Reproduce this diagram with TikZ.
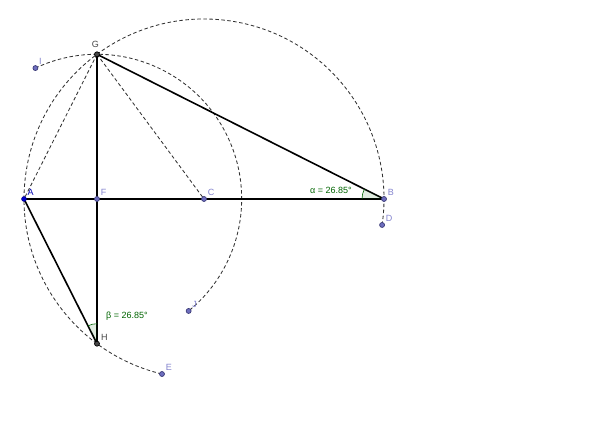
\documentclass[tikz,border=0pt]{standalone}
\usepackage{fontspec}
\setmainfont{Liberation Sans}
\usetikzlibrary{calc}
\definecolor{ptfill}{RGB}{110,110,190}
\definecolor{ptline}{RGB}{60,60,120}
\definecolor{lblblue}{RGB}{130,130,205}
\definecolor{anggreen}{RGB}{0,100,0}
\definecolor{depgray}{RGB}{70,70,70}
\tikzset{
  freept/.style={circle,draw=ptline,fill=ptfill,inner sep=0pt,minimum size=5pt,line width=0.7pt},
  deppt/.style={circle,draw=black,fill=depgray,inner sep=0pt,minimum size=5pt,line width=0.7pt},
  lbl/.style={text=lblblue,font=\fontsize{9}{10}\selectfont,inner sep=1pt},
  constr/.style={dash pattern=on 3.5pt off 2.5pt,line width=0.85pt,black!80},
  seg/.style={line width=1.6pt,black},
  angsector/.style={fill=anggreen,fill opacity=0.12,draw=none},
  angarc/.style={draw=anggreen,line width=0.6pt}
}
\begin{document}
\begin{tikzpicture}[x=1pt,y=1pt]
\useasboundingbox (0,0) rectangle (590,443);
    % base points
    \coordinate (C) at (204,244);
    \coordinate (A) at ($(C)+(180:180)$);
    \coordinate (B) at ($(C)+(0:180)$);
    \coordinate (F) at (97,244);
    \coordinate (G) at (97,388.7);
    \coordinate (H) at (97,99.3);
    \coordinate (D) at ($(C)+(-8.3:180)$);
    \coordinate (E) at ($(C)+(256.5:180)$);
    \coordinate (I) at ($(F)+(115.2:144.7)$);
    \coordinate (J) at ($(F)+(-50.7:144.7)$);

    % construction circles
    \draw[constr] (D) arc[start angle=-8.3, end angle=256.5, radius=180];
    \draw[constr] (I) arc[start angle=115.2, end angle=-50.7, radius=144.7];
    \draw[constr] (G) -- (A);
    \draw[constr] (G) -- (C);

    % triangle and altitude
    \draw[seg] (A) -- (B);
    \draw[seg] (G) -- (B);
    \draw[seg] (G) -- (H);
    \draw[seg] (A) -- (H);

    % angles
    \fill[angsector] (B) -- ++(180:22) arc[start angle=180, end angle=153.15, radius=22] -- cycle;
    \draw[angarc] ($(B)+(180:22)$) arc[start angle=180, end angle=153.15, radius=22];
    \fill[angsector] (H) -- ++(90:20) arc[start angle=90, end angle=116.85, radius=20] -- cycle;
    \draw[angarc] ($(H)+(90:20)$) arc[start angle=90, end angle=116.85, radius=20];
    \node[text=anggreen,font=\fontsize{9}{10}\selectfont] (alpha) at (331,253) {α = 26.85°};
    \node[text=anggreen,font=\fontsize{9}{10}\selectfont] (beta) at (127,127) {β = 26.85°};

    % points
\foreach \p in {F,C,B,D,I,J,E}{
    \node[freept,label={[lbl,anchor=south west,label distance=0.5pt]40:\p}] (pt\p) at (\p) {};
}
    \node[circle,draw=blue!50!black,fill=blue!80!black,inner sep=0pt,minimum size=5pt,
          label={[lbl,text=blue!70!black,anchor=south west,label distance=0.5pt]40:A}] (ptA) at (A) {};
    \node[deppt,label={[lbl,text=depgray,anchor=south,label distance=3pt]105:G}] (ptG) at (G) {};
    \node[deppt,label={[lbl,text=depgray,anchor=south west,label distance=0.5pt]30:H}] (ptH) at (H) {};
\end{tikzpicture}
\end{document}
